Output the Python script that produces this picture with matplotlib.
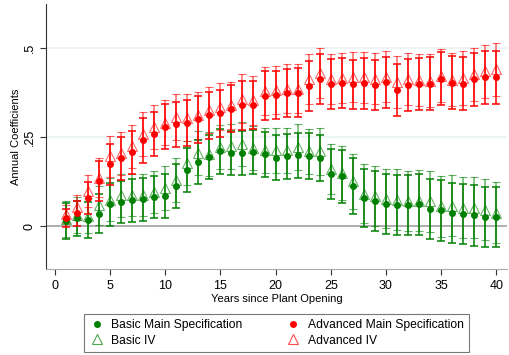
import numpy as np
import matplotlib
matplotlib.use("Agg")
import matplotlib.pyplot as plt
from matplotlib.lines import Line2D

plt.rcParams['font.family'] = ['Liberation Sans', 'DejaVu Sans']

years = list(range(1, 41))

# point estimates
basic_main = [0.015, 0.022, 0.017, 0.035, 0.062, 0.068, 0.073, 0.076, 0.082, 0.086,
              0.112, 0.159, 0.180, 0.194, 0.210, 0.205, 0.206, 0.208, 0.202, 0.192,
              0.197, 0.199, 0.197, 0.192, 0.148, 0.140, 0.113, 0.079, 0.071, 0.062,
              0.060, 0.060, 0.062, 0.049, 0.045, 0.037, 0.034, 0.031, 0.026, 0.026]
basic_iv = [0.020, 0.032, 0.030, 0.059, 0.075, 0.087, 0.088, 0.088, 0.096, 0.107,
            0.129, 0.178, 0.205, 0.204, 0.222, 0.224, 0.230, 0.220, 0.213, 0.213,
            0.213, 0.222, 0.210, 0.210, 0.161, 0.149, 0.126, 0.092, 0.085, 0.078,
            0.075, 0.071, 0.072, 0.070, 0.056, 0.058, 0.052, 0.052, 0.047, 0.038]
adv_main = [0.023, 0.037, 0.079, 0.127, 0.174, 0.191, 0.208, 0.241, 0.258, 0.279,
            0.286, 0.290, 0.300, 0.311, 0.317, 0.330, 0.339, 0.341, 0.367, 0.368,
            0.374, 0.375, 0.393, 0.413, 0.400, 0.401, 0.398, 0.401, 0.397, 0.404,
            0.383, 0.397, 0.400, 0.400, 0.414, 0.403, 0.400, 0.412, 0.418, 0.418]
adv_iv = [0.035, 0.054, 0.100, 0.136, 0.196, 0.205, 0.224, 0.260, 0.278, 0.290,
          0.306, 0.305, 0.311, 0.327, 0.336, 0.339, 0.358, 0.353, 0.379, 0.383,
          0.386, 0.386, 0.414, 0.429, 0.414, 0.416, 0.420, 0.418, 0.414, 0.420,
          0.404, 0.414, 0.411, 0.409, 0.423, 0.411, 0.416, 0.426, 0.435, 0.440]

# confidence interval half widths
basic_ci = [0.050, 0.050, 0.050, 0.055, 0.060, 0.060, 0.060, 0.060, 0.060, 0.062,
            0.062, 0.062, 0.062, 0.062, 0.062, 0.062, 0.062, 0.062, 0.063, 0.063,
            0.063, 0.064, 0.064, 0.065, 0.070, 0.075, 0.078, 0.082, 0.083, 0.084,
            0.085, 0.085, 0.085, 0.085, 0.085, 0.085, 0.085, 0.085, 0.085, 0.085]
adv_ci = [0.025, 0.035, 0.045, 0.055, 0.058, 0.060, 0.060, 0.062, 0.062, 0.063,
          0.064, 0.065, 0.065, 0.065, 0.066, 0.066, 0.068, 0.068, 0.068, 0.068,
          0.068, 0.068, 0.070, 0.070, 0.070, 0.070, 0.070, 0.071, 0.071, 0.072,
          0.073, 0.073, 0.073, 0.074, 0.074, 0.074, 0.075, 0.075, 0.075, 0.075]

green = '#008000'
red = '#FF0000'

fig = plt.figure(figsize=(5.1, 3.55), dpi=100)
ax = fig.add_axes([0.09, 0.242, 0.905, 0.748])

# grid and zero line
for g in [0.25, 0.5]:
    ax.axhline(g, color='#EAF2F3', lw=1.2, zorder=0)
ax.axhline(0, color='#A8A8A8', lw=1.3, zorder=1)

ekw = dict(capsize=3.0, elinewidth=1.1, capthick=1.1, linestyle='none')
ax.errorbar(years, basic_iv, yerr=basic_ci, color=green, alpha=0.6,
            marker='^', mfc='none', mec=green, ms=7, mew=0.8, zorder=2, **ekw)
ax.errorbar(years, adv_iv, yerr=adv_ci, color=red, alpha=0.6,
            marker='^', mfc='none', mec=red, ms=7, mew=0.8, zorder=2, **ekw)
ax.errorbar(years, basic_main, yerr=basic_ci, color=green,
            marker='o', ms=4, zorder=3, **ekw)
ax.errorbar(years, adv_main, yerr=adv_ci, color=red,
            marker='o', ms=4, zorder=3, **ekw)

ax.set_xlim(-0.8, 41)
ax.set_ylim(-0.12, 0.625)
ax.set_xticks(range(0, 41, 5))
ax.set_yticks([0, 0.25, 0.5])
ax.set_yticklabels(['0', '.25', '.5'], rotation=90, va='center')
ax.tick_params(axis='both', labelsize=9, length=4, width=0.8, colors='#333333')
ax.tick_params(axis='x', labelcolor='black')
ax.tick_params(axis='y', labelcolor='black')
ax.set_xlabel('Years since Plant Opening', fontsize=8, labelpad=2)
ax.set_ylabel('Annual Coefficients', fontsize=8, labelpad=2)

for s in ['top', 'right']:
    ax.spines[s].set_visible(False)
ax.spines['left'].set_color('#333333')
ax.spines['bottom'].set_color('#A8A8A8')

handles = [
    Line2D([], [], color=green, marker='o', ms=4, ls='none'),
    Line2D([], [], color=green, marker='^', mfc='none', ms=7, mew=0.8, ls='none', alpha=0.7),
    Line2D([], [], color=red, marker='o', ms=4, ls='none'),
    Line2D([], [], color=red, marker='^', mfc='none', ms=7, mew=0.8, ls='none', alpha=0.7),
]
labels = ['Basic Main Specification', 'Basic IV',
          'Advanced Main Specification', 'Advanced IV']
leg = fig.legend(handles, labels, ncol=2, loc='center', bbox_to_anchor=(0.542, 0.0625),
                 fontsize=8.7, frameon=True, fancybox=False, edgecolor='#555555',
                 handlelength=1.2, handletextpad=0.6, columnspacing=3.6,
                 borderpad=0.45, labelspacing=0.3)
leg.get_frame().set_linewidth(0.8)

fig.savefig('out.png', dpi=100)
